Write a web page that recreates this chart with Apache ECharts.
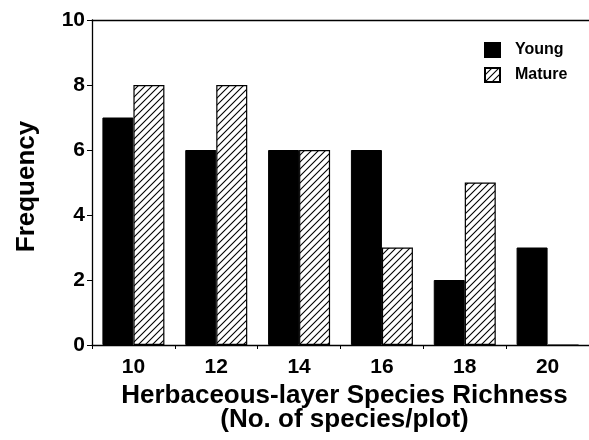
<!DOCTYPE html>
<html>
<head>
<meta charset="utf-8">
<script src="https://cdn.jsdelivr.net/npm/echarts@6/dist/echarts.min.js"></script>
<style>
html,body{margin:0;padding:0;background:#fff;}
#c{width:589px;height:440px;}
</style>
</head>
<body>
<div id="c"></div>
<script>
var categories = ['10', '12', '14', '16', '18', '20'];
var youngValues = [7, 6, 6, 6, 2, 3];
var matureValues = [8, 8, 6, 3, 5, 0];
var yTicks = [0, 2, 4, 6, 8, 10];

function hatch() {
  var s = 7;
  var cv = document.createElement('canvas');
  cv.width = s; cv.height = s;
  var ctx = cv.getContext('2d');
  ctx.fillStyle = '#fff';
  ctx.fillRect(0, 0, s, s);
  ctx.strokeStyle = '#000';
  ctx.lineWidth = 1.1;
  ctx.beginPath();
  ctx.moveTo(-1, s + 1); ctx.lineTo(s + 1, -1);
  ctx.moveTo(-1, 1); ctx.lineTo(1, -1);
  ctx.moveTo(s - 1, s + 1); ctx.lineTo(s + 1, s - 1);
  ctx.stroke();
  return cv;
}

var font = '"Liberation Sans", Arial, Helvetica, sans-serif';
var chart = echarts.init(document.getElementById('c'), null, {renderer: 'canvas'});
chart.setOption({
  animation: false,
  backgroundColor: '#fff',
  textStyle: {fontFamily: font, color: '#000'},
  grid: {left: 92, right: 0, top: 20, bottom: 95, containLabel: false},
  legend: {
    orient: 'vertical',
    left: 484, top: 42,
    padding: 0,
    itemWidth: 15, itemHeight: 14, itemGap: 9,
    textStyle: {fontFamily: font, fontWeight: 'bold', fontSize: 16, color: '#000', padding: [0, 0, 0, 10]},
    data: [{name: 'Young', icon: 'rect'}, {name: 'Mature', icon: 'rect'}]
  },
  xAxis: [{
    type: 'category',
    data: categories,
    position: 'bottom',
    axisLine: {lineStyle: {color: '#000', width: 1.3}},
    axisTick: {show: true, length: 4, lineStyle: {color: '#000'}},
    axisLabel: {fontFamily: font, fontWeight: 'bold', fontSize: 21, color: '#000', margin: 12},
    name: 'Herbaceous-layer Species Richness\n(No. of species/plot)',
    nameLocation: 'middle',
    nameGap: 33,
    nameTextStyle: {fontFamily: font, fontWeight: 'bold', fontSize: 26, color: '#000', lineHeight: 24, padding: [0, 0, 0, 8]}
  }, {
    type: 'category',
    data: categories,
    position: 'top',
    axisLine: {lineStyle: {color: '#000', width: 1.3}},
    axisTick: {show: false},
    axisLabel: {show: false}
  }],
  yAxis: {
    type: 'value',
    min: 0, max: 10, interval: 2,
    splitLine: {show: false},
    axisLine: {show: true, lineStyle: {color: '#000', width: 1.3}},
    axisTick: {show: true, length: 5, lineStyle: {color: '#000'}},
    axisLabel: {
      fontFamily: font, fontWeight: 'bold', fontSize: 21, color: '#000', margin: 7,
      formatter: function (v) { return yTicks.indexOf(v) >= 0 ? String(v) : ''; }
    },
    name: 'Frequency',
    nameLocation: 'middle',
    nameGap: 52,
    nameTextStyle: {fontFamily: font, fontWeight: 'bold', fontSize: 26, color: '#000', padding: [0, 8, 0, 0]}
  },
  series: [{
    name: 'Young',
    type: 'bar',
    data: youngValues,
    barWidth: 31,
    barGap: '0%',
    itemStyle: {color: '#000', borderColor: '#000', borderWidth: 1}
  }, {
    name: 'Mature',
    type: 'bar',
    data: matureValues,
    barWidth: 31,
    barGap: '0%',
    itemStyle: {color: {image: hatch(), repeat: 'repeat'}, borderColor: '#000', borderWidth: 1.2}
  }]
});
</script>
</body>
</html>
